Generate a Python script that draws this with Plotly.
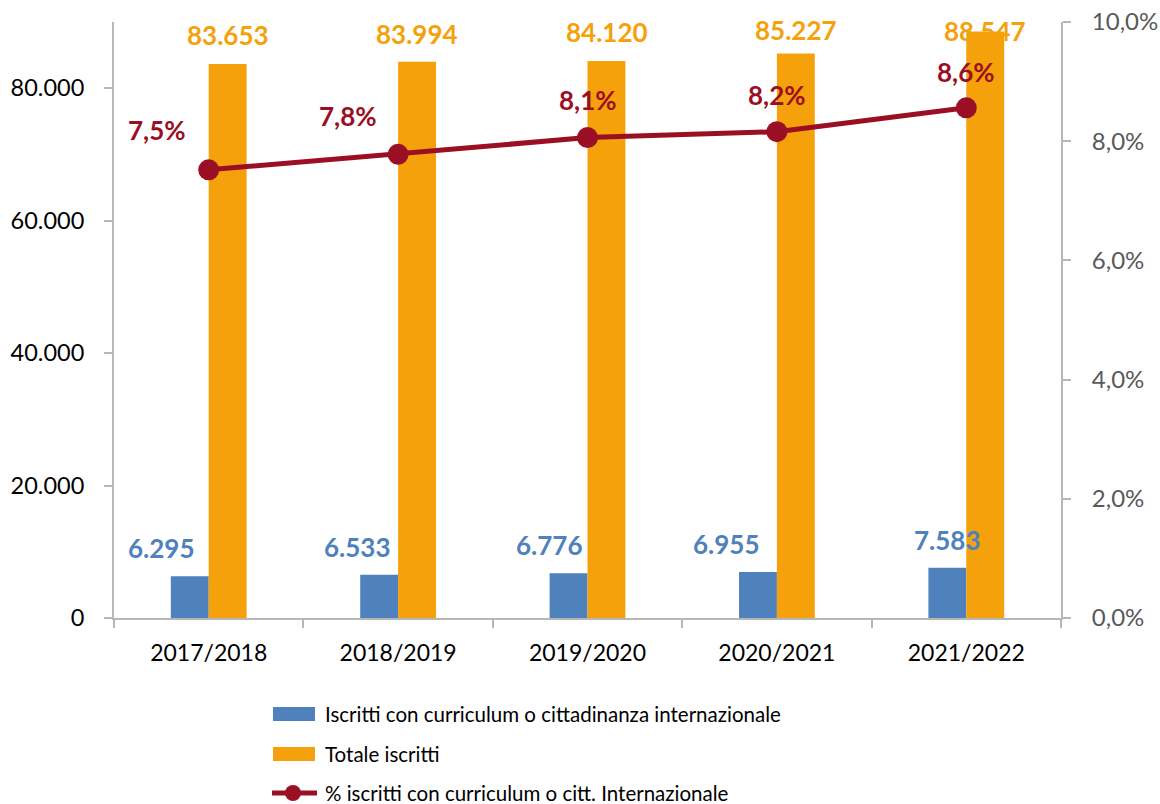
import plotly.graph_objects as go

# ---- data ----
categories = ["2017/2018", "2018/2019", "2019/2020", "2020/2021", "2021/2022"]
iscritti_internazionali = [6295, 6533, 6776, 6955, 7583]
totale_iscritti = [83653, 83994, 84120, 85227, 88547]
perc_internazionali = [0.0752, 0.0778, 0.0806, 0.0816, 0.0856]

name_int = "Iscritti con curriculum o cittadinanza internazionale"
name_tot = "Totale iscritti"
name_perc = "% iscritti con curriculum o citt. Internazionale"

# ---- styles ----
BLUE = "#4F81BD"
ORANGE = "#F4A10B"
RED = "#9B0F24"
AXIS = "#B7B7B7"
FONT = "Lato"

def fmt_int(v):
    return f"{v:,}".replace(",", ".")

def fmt_pct(v):
    return f"{v*100:.1f}".replace(".", ",") + "%"

fig = go.Figure()
fig.add_trace(go.Bar(x=categories, y=iscritti_internazionali, name=name_int,
                     marker=dict(color=BLUE, line=dict(width=0)), showlegend=False))
fig.add_trace(go.Bar(x=categories, y=totale_iscritti, name=name_tot,
                     marker=dict(color=ORANGE, line=dict(width=0)), showlegend=False))
fig.add_trace(go.Scatter(x=categories, y=perc_internazionali, name=name_perc,
                         mode="lines+markers", yaxis="y2",
                         line=dict(color=RED, width=5),
                         marker=dict(color=RED, size=21), showlegend=False))

annotations = []
# label offsets (style, pixels)
blue_xshift = [-47, -41, -38, -50, -19]
orange_yshift = [29, 28, 29, 24, 1]
pct_xshift = [-52, -50, 0, 0, 0]
pct_yshift = [40, 38, 38, 37, 36]
LBL = 26
for i, c in enumerate(categories):
    annotations.append(dict(x=c, y=iscritti_internazionali[i], xref="x", yref="y",
                            text=fmt_int(iscritti_internazionali[i]), showarrow=False,
                            xshift=blue_xshift[i], yshift=28, yanchor="middle",
                            font=dict(family=FONT, size=LBL, color=BLUE, weight="bold")))
    annotations.append(dict(x=c, y=totale_iscritti[i], xref="x", yref="y",
                            text=fmt_int(totale_iscritti[i]), showarrow=False,
                            xshift=19, yshift=orange_yshift[i], yanchor="middle",
                            font=dict(family=FONT, size=LBL, color=ORANGE, weight="bold")))
    annotations.append(dict(x=c, y=perc_internazionali[i], xref="x", yref="y2",
                            text=fmt_pct(perc_internazionali[i]), showarrow=False,
                            xshift=pct_xshift[i], yshift=pct_yshift[i], yanchor="middle",
                            font=dict(family=FONT, size=LBL, color=RED, weight="bold")))

# ---- custom legend (pixel offsets from the plot's bottom-left corner) ----
shapes = []
legend_rows = [(name_int, BLUE, "rect", -96), (name_tot, ORANGE, "rect", -136),
               (name_perc, RED, "line", -175)]
for name, col, kind, dy in legend_rows:
    if kind == "rect":
        shapes.append(dict(type="rect", xref="paper", yref="paper",
                           xsizemode="pixel", ysizemode="pixel", xanchor=0, yanchor=0,
                           x0=159, x1=201, y0=dy - 7, y1=dy + 7,
                           fillcolor=col, line=dict(width=0)))
    else:
        shapes.append(dict(type="line", xref="paper", yref="paper",
                           xsizemode="pixel", ysizemode="pixel", xanchor=0, yanchor=0,
                           x0=158, x1=203, y0=dy, y1=dy, line=dict(color=col, width=5)))
        shapes.append(dict(type="circle", xref="paper", yref="paper",
                           xsizemode="pixel", ysizemode="pixel", xanchor=0, yanchor=0,
                           x0=171, x1=187, y0=dy - 8, y1=dy + 8,
                           fillcolor=col, line=dict(width=0)))
    annotations.append(dict(x=0, y=0, xref="paper", yref="paper", xanchor="left",
                            yanchor="middle", xshift=209, yshift=dy, showarrow=False,
                            text=name, font=dict(family=FONT, size=20.5, color="black")))

fig.update_layout(
    width=1160, height=804,
    margin=dict(l=114, r=99, t=22, b=186, autoexpand=False),
    paper_bgcolor="white", plot_bgcolor="white",
    separators=",.",
    barmode="group", bargap=0.6, bargroupgap=0,
    showlegend=False,
    font=dict(family=FONT, size=21, color="black"),
    xaxis=dict(type="category", showline=True, linecolor=AXIS, linewidth=2,
               ticks="outside", tickson="boundaries", ticklen=8, tickcolor=AXIS,
               tickwidth=2, showgrid=False, tickfont=dict(size=23, color="black"),
               ticklabelstandoff=13),
    yaxis=dict(range=[0, 90000], tick0=0, dtick=20000, tickformat=",d",
               showline=True, linecolor=AXIS, linewidth=2, ticks="outside",
               ticklen=8, tickcolor=AXIS, tickwidth=2, showgrid=False,
               zeroline=False, tickfont=dict(size=23.5, color="black"),
               ticklabelstandoff=15),
    yaxis2=dict(range=[0, 0.1], tick0=0, dtick=0.02, tickformat=".1%",
                overlaying="y", side="right", showline=True, linecolor=AXIS,
                linewidth=2, ticks="outside", ticklen=8, tickcolor=AXIS, tickwidth=2,
                showgrid=False, zeroline=False, tickfont=dict(size=24, color="#595959"),
                ticklabelstandoff=16),
    annotations=annotations,
    shapes=shapes,
)

fig.write_html("out.html", config={"displayModeBar": False, "staticPlot": True},
               post_script="document.body.style.margin='0';document.body.style.overflow='hidden';")
